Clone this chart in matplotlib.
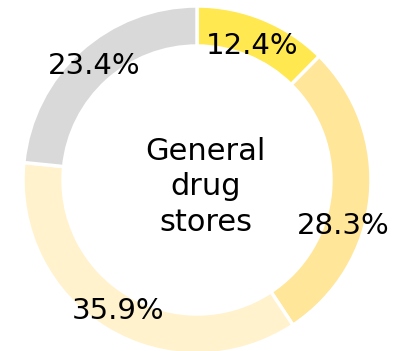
import matplotlib.pyplot as plt
import numpy as np

shares = [12.4, 28.3, 35.9, 23.4]
labels = ['12.4%', '28.3%', '35.9%', '23.4%']
colors = ['#FFE850', '#FFE699', '#FFF2CC', '#D9D9D9']
center_text = 'General\ndrug\nstores'

plt.rcParams['font.family'] = ['DejaVu Sans']

fig = plt.figure(figsize=(4.02, 3.51), dpi=100)
ax = fig.add_axes([0, 0, 1, 1])

wedges, _ = ax.pie(shares, colors=colors, startangle=90, counterclock=False,
                   radius=1.0, wedgeprops=dict(width=0.23, edgecolor='white', linewidth=2.5))

# label positions: middle of each wedge, the second one nudged down a bit
nudge = [0, -12, 0, 0]
rad = [0.83, 0.88, 0.88, 0.88]
for w, lab, dn, r in zip(wedges, labels, nudge, rad):
    ang = np.deg2rad((w.theta1 + w.theta2) / 2 + dn)
    ax.text(r * np.cos(ang), r * np.sin(ang), lab, ha='center', va='center',
            fontsize=21, color='black')

ax.text(0.05, -0.04, center_text, ha='center', va='center', fontsize=22,
        linespacing=1.28, color='black')

ax.set_xlim(-197 / 174, (402 - 197) / 174)
ax.set_ylim(-(351 - 180) / 174, 180 / 174)
ax.set_aspect('equal')
ax.axis('off')

fig.savefig('out.png', dpi=100)
